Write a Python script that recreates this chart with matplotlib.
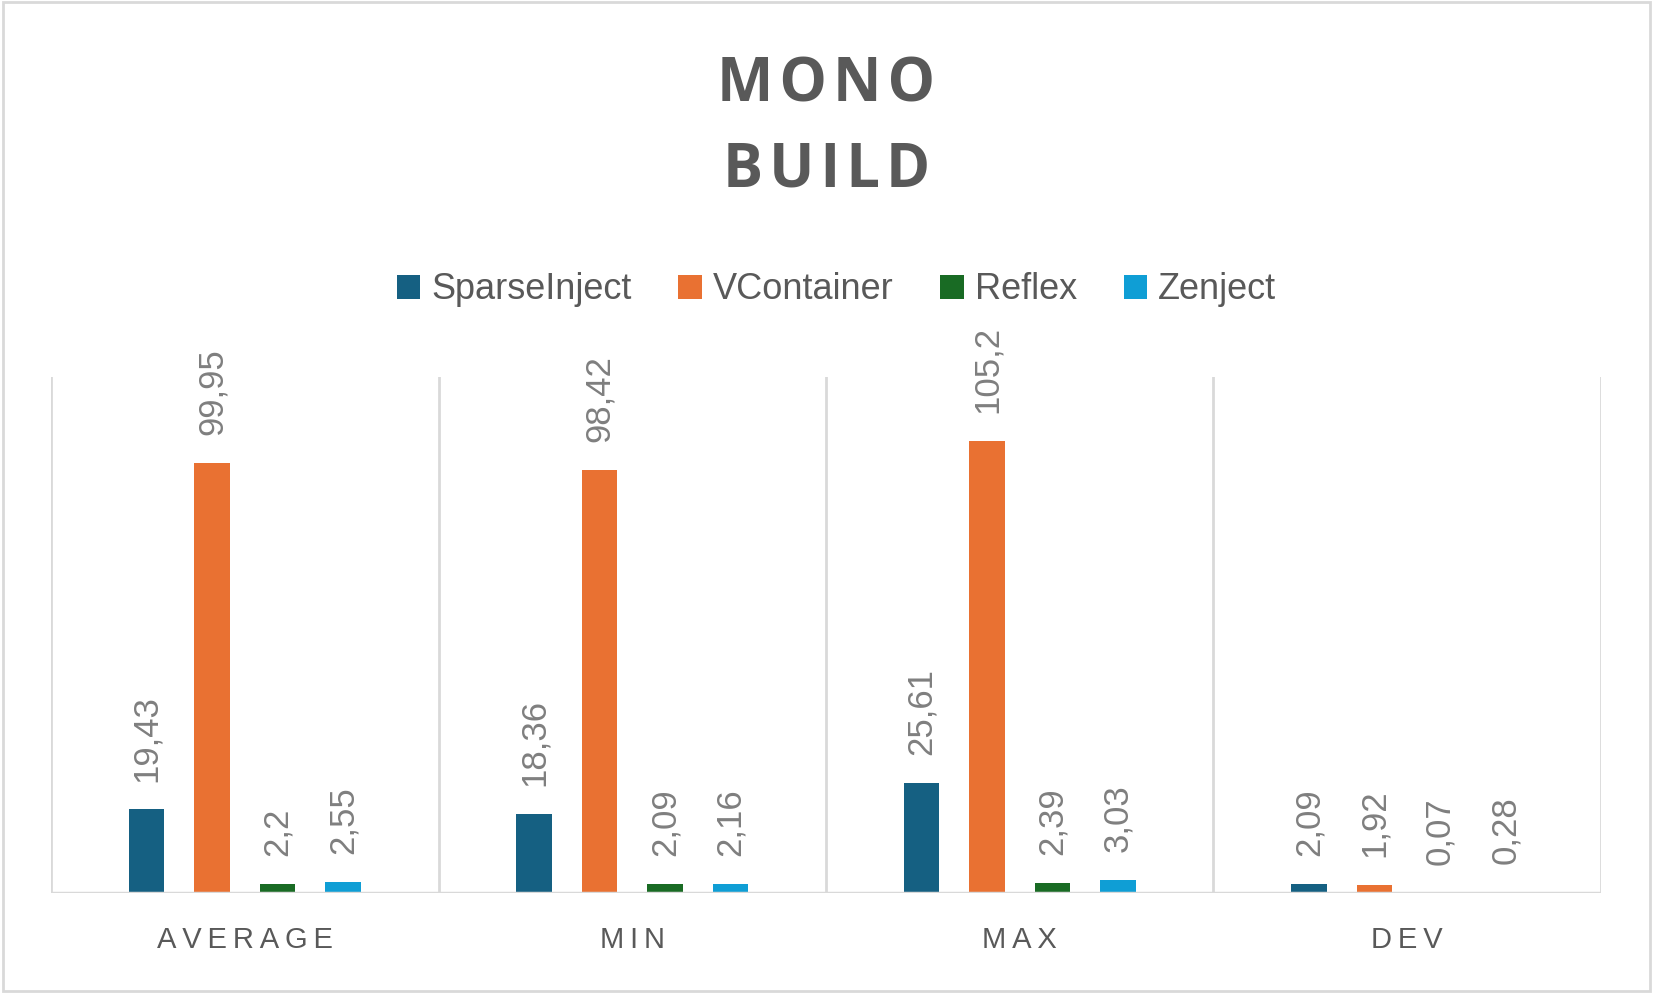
import matplotlib.pyplot as plt
import numpy as np
from matplotlib.patches import Rectangle

categories = ['AVERAGE', 'MIN', 'MAX', 'DEV']
series_names = ['SparseInject', 'VContainer', 'Reflex', 'Zenject']
sparseinject = [19.43, 18.36, 25.61, 2.09]
vcontainer = [99.95, 98.42, 105.2, 1.92]
reflex = [2.2, 2.09, 2.39, 0.07]
zenject = [2.55, 2.16, 3.03, 0.28]
colors = ['#156082', '#E97132', '#196B24', '#0F9ED5']

plt.rcParams['font.family'] = ['Liberation Sans', 'DejaVu Sans']

fig = plt.figure(figsize=(16.53, 9.93), dpi=100)
ax = fig.add_axes([0.0309, 0.1007, 0.9376, 0.5196])

# contour gris de la figure
fig.patches.append(Rectangle((0.002, 0.002), 0.996, 0.996, transform=fig.transFigure,
                             fill=False, edgecolor='#d9d9d9', linewidth=2))

x = np.arange(len(categories))
width = 0.092
step = 0.169
all_series = [sparseinject, vcontainer, reflex, zenject]
for i, vals in enumerate(all_series):
    pos = x + (i - 1.5) * step
    ax.bar(pos, vals, width=width, color=colors[i], label=series_names[i], zorder=3)
    for p, v in zip(pos, vals):
        txt = ('%g' % v).replace('.', ',')
        ax.annotate(txt, (p, v), xytext=(0, 20), textcoords='offset points',
                    rotation=90, ha='center', va='bottom', fontsize=25, color='#7f7f7f')

ax.set_xlim(-0.5, 3.5)
ax.set_ylim(0, 120)
for b in np.arange(-0.5, 4, 1):
    ax.axvline(b, color='#d9d9d9', linewidth=2, zorder=1)
ax.axhline(0, color='#d9d9d9', linewidth=2.5, zorder=4)
for s in ax.spines.values():
    s.set_visible(False)
ax.set_yticks([])
ax.set_xticks(x)
ax.set_xticklabels(['\u2009'.join(c) for c in categories], fontsize=21, color='#595959')
ax.tick_params(axis='x', length=0, pad=24)

fig.text(0.5, 0.913, '\u200a'.join('MONO'), ha='center', va='center', fontsize=43,
         fontweight='bold', color='#595959', family=['Open Sans', 'DejaVu Sans'])
fig.text(0.5, 0.828, '\u200a'.join('BUILD'), ha='center', va='center', fontsize=43,
         fontweight='bold', color='#595959', family=['Open Sans', 'DejaVu Sans'])

fig.legend(loc='center', bbox_to_anchor=(0.506, 0.708), ncol=4, frameon=False,
           fontsize=26, labelcolor='#595959', handlelength=0.65, handleheight=0.65,
           handletextpad=0.3, columnspacing=1.3)

fig.savefig('out.png', dpi=100)
